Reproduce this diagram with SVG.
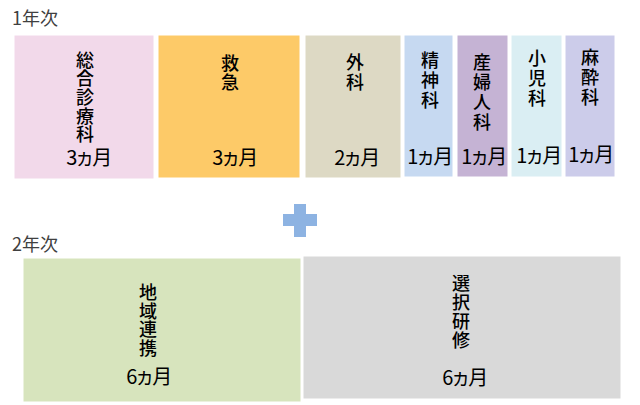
<svg xmlns="http://www.w3.org/2000/svg" width="640" height="405" viewBox="0 0 640 405">
<style>
text{font-family:"Noto Sans CJK JP","Noto Sans",sans-serif;fill:#000}
.h{font-size:18px;fill:#404040}
.v{font-size:18px;font-weight:500;writing-mode:vertical-rl;text-anchor:start}
.w{letter-spacing:2px}
.m{font-size:20px;text-anchor:middle;letter-spacing:-2.5px}
rect.b{stroke:#ffffff;stroke-width:1}
</style>
<rect width="640" height="405" fill="#ffffff"/>
<text class="h" x="12" y="25">1年次</text>
<text class="h" x="12" y="251">2年次</text>
<g id="n1"><rect class="b" x="14" y="35" width="140" height="144" fill="#F2D9EA"/>
<text class="v" x="85" y="51" style="letter-spacing:0.6px">総合診療科</text>
<text class="m" x="88" y="165">3ヵ月</text></g>
<g id="n2"><rect class="b" x="158" y="35" width="142" height="143" fill="#FDCA68"/>
<text class="v" x="230" y="54" style="letter-spacing:1px">救急</text>
<text class="m" x="234" y="165">3ヵ月</text></g>
<g id="n3"><rect class="b" x="305" y="35" width="96" height="143" fill="#DDD9C4"/>
<text class="v w" x="355" y="53">外科</text>
<text class="m" x="356" y="165">2ヵ月</text></g>
<g id="n4"><rect class="b" x="404" y="35" width="49" height="142" fill="#C6D9F1"/>
<text class="v w" x="430" y="51">精神科</text>
<text class="m" x="429" y="164">1ヵ月</text></g>
<g id="n5"><rect class="b" x="457" y="35" width="51" height="142" fill="#C5B3D4"/>
<text class="v w" x="482" y="53">産婦人科</text>
<text class="m" x="483" y="164">1ヵ月</text></g>
<g id="n6"><rect class="b" x="511" y="35" width="51" height="142" fill="#DAEEF3"/>
<text class="v w" x="537" y="49">小児科</text>
<text class="m" x="538" y="163">1ヵ月</text></g>
<g id="n7"><rect class="b" x="565" y="35" width="50" height="142" fill="#CCCCEA"/>
<text class="v w" x="590" y="48">麻酔科</text>
<text class="m" x="590" y="162">1ヵ月</text></g>
<g id="plus"><path d="M294 204h12v10h11v12h-11v11h-12v-11h-11v-12h11z" fill="#8DB3E2"/></g>
<g id="n8"><rect class="b" x="23" y="258" width="278" height="144" fill="#D7E4BD"/>
<text class="v" x="148" y="283" style="letter-spacing:0.7px">地域連携</text>
<text class="m" x="148" y="384">6ヵ月</text></g>
<g id="n9"><rect class="b" x="303" y="256" width="318" height="143" fill="#D9D9D9"/>
<text class="v" x="461" y="274" style="letter-spacing:1px">選択研修</text>
<text class="m" x="464" y="385">6ヵ月</text></g>
<g id="connectors"/>
</svg>
